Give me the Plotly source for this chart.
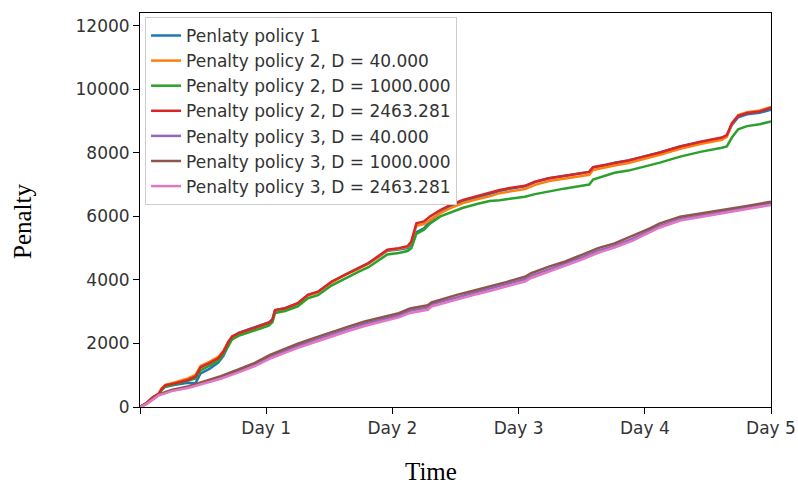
import plotly.graph_objects as go

# ---- data ----
t_up = [0.00,0.05,0.10,0.15,0.17,0.20,0.28,0.38,0.44,0.48,
        0.55,0.62,0.66,0.70,0.73,0.78,0.86,0.94,1.02,1.05,
        1.07,1.15,1.25,1.33,1.41,1.52,1.62,1.73,1.81,1.89,
        1.96,2.05,2.12,2.15,2.19,2.25,2.30,2.38,2.46,2.56,
        2.67,2.77,2.85,2.93,3.05,3.13,3.24,3.37,3.50,3.56,
        3.59,3.69,3.76,3.87,3.95,4.04,4.12,4.28,4.44,4.61,
        4.65,4.69,4.74,4.81,4.91,5.00]

policy1 = [0,110,290,410,540,640,700,760,750,1060,
           1200,1400,1600,1950,2200,2330,2450,2550,2660,2750,
           3040,3110,3260,3520,3620,3940,4150,4360,4520,4720,
           4920,4960,5000,5120,5500,5620,5850,6120,6300,6470,
           6600,6700,6800,6870,6950,7080,7200,7280,7370,7400,
           7540,7610,7690,7760,7840,7930,8010,8200,8340,8470,
           8540,8880,9120,9210,9260,9360]

p2_d40 = [0,120,300,430,580,700,780,900,1010,1290,
          1420,1580,1760,2060,2220,2310,2420,2520,2640,2750,
          3020,3090,3250,3500,3610,3920,4150,4350,4510,4730,
          4930,4980,5040,5180,5700,5760,5900,6100,6260,6420,
          6540,6630,6730,6790,6860,6990,7110,7190,7270,7310,
          7460,7530,7600,7680,7760,7850,7940,8130,8280,8410,
          8500,8920,9190,9280,9330,9440]

p2_d1000 = [0,110,290,400,520,640,720,820,900,1150,
            1300,1450,1650,1930,2130,2240,2350,2450,2560,2670,
            2960,3020,3170,3420,3520,3830,4040,4250,4400,4610,
            4800,4850,4910,5000,5450,5580,5780,6000,6120,6270,
            6390,6480,6510,6560,6620,6700,6790,6880,6960,7000,
            7160,7290,7370,7440,7520,7610,7690,7880,8030,8160,
            8200,8480,8740,8840,8900,8990]

p2_d2463 = [0,120,300,420,560,680,750,850,960,1250,
            1380,1530,1740,2050,2220,2320,2430,2530,2650,2760,
            3050,3110,3270,3530,3630,3950,4160,4370,4530,4740,
            4950,5000,5060,5210,5780,5840,6000,6200,6360,6520,
            6640,6730,6830,6890,6960,7090,7200,7280,7360,7400,
            7550,7620,7690,7760,7840,7930,8010,8200,8350,8480,
            8560,8930,9160,9250,9300,9420]

t_low = [0.00,0.05,0.10,0.15,0.20,0.25,0.38,0.51,0.64,0.78,
         0.91,1.03,1.15,1.25,1.40,1.52,1.65,1.78,1.92,2.05,
         2.14,2.28,2.31,2.40,2.51,2.64,2.77,2.90,3.05,3.10,
         3.24,3.37,3.50,3.63,3.76,3.90,3.98,4.04,4.12,4.28,
         4.49,4.65,4.81,5.00]

p3_d40 = [0,95,240,380,450,520,620,770,930,1130,
          1330,1570,1760,1920,2130,2300,2460,2620,2760,2880,
          3030,3130,3230,3330,3460,3590,3720,3860,4020,4130,
          4330,4500,4710,4920,5080,5290,5440,5540,5700,5920,
          6050,6170,6280,6410]

p3_d1000 = [0,100,250,390,470,540,650,810,970,1180,
            1390,1640,1830,1990,2200,2370,2530,2690,2820,2950,
            3100,3200,3290,3400,3530,3660,3790,3930,4100,4210,
            4420,4580,4790,5000,5150,5370,5520,5620,5780,5990,
            6120,6230,6330,6460]

p3_d2463 = [0,90,230,370,430,500,600,740,890,1090,
            1290,1520,1700,1860,2060,2230,2390,2550,2690,2820,
            2960,3060,3160,3260,3390,3520,3650,3790,3950,4060,
            4260,4430,4640,4850,5020,5230,5390,5490,5650,5870,
            6000,6120,6230,6360]

names = ["Penlaty policy 1",
         "Penalty policy 2, D = 40.000",
         "Penalty policy 2, D = 1000.000",
         "Penalty policy 2, D = 2463.281",
         "Penalty policy 3, D = 40.000",
         "Penalty policy 3, D = 1000.000",
         "Penalty policy 3, D = 2463.281"]
colors = ["#1f77b4", "#ff7f0e", "#2ca02c", "#d62728", "#9467bd", "#8c564b", "#e377c2"]

x_tickvals = [0, 1, 2, 3, 4, 5]
x_ticktext = ["", "Day 1", "Day 2", "Day 3", "Day 4", "Day 5"]
y_tickvals = [0, 2000, 4000, 6000, 8000, 10000, 12000]
y_ticktext = ["0", "2000", "4000", "6000", "8000", "10000", "12000"]

series = [(t_up, policy1), (t_up, p2_d40), (t_up, p2_d1000), (t_up, p2_d2463),
          (t_low, p3_d40), (t_low, p3_d1000), (t_low, p3_d2463)]

fig = go.Figure()
for (xs, ys), nm, c in zip(series, names, colors):
    fig.add_trace(go.Scatter(x=xs, y=ys, mode="lines", name=nm,
                             line=dict(color=c, width=2.5)))

L, R, T, B = 140, 27, 13, 77
W, H = 798, 484
pw = W - L - R
ph = H - T - B

tick_font = dict(family="DejaVu Sans", size=17, color="#333333")
fig.update_layout(
    width=W, height=H,
    margin=dict(l=L, r=R, t=T, b=B, autoexpand=False),
    paper_bgcolor="white", plot_bgcolor="white",
    showlegend=True,
    legend=dict(x=0.008, y=0.99, xanchor="left", yanchor="top",
                bgcolor="white", bordercolor="#cccccc", borderwidth=1,
                font=dict(family="DejaVu Sans", size=17, color="#333333")),
    xaxis=dict(range=[0, 5], tickvals=x_tickvals, ticktext=x_ticktext,
               automargin=False,
               showgrid=False, zeroline=False, showline=True, linecolor="black",
               linewidth=1, mirror=True, ticks="outside", ticklen=6, tickcolor="black",
               tickfont=tick_font),
    yaxis=dict(range=[0, 12400], tickvals=y_tickvals, ticktext=y_ticktext,
               automargin=False,
               showgrid=False, zeroline=False, showline=True, linecolor="black",
               linewidth=1, mirror=True, ticks="outside", ticklen=6, tickcolor="black",
               tickfont=tick_font),
)
fig.add_annotation(text="Time", x=(431 - L) / pw, y=(H - B - 471) / ph,
                   xref="paper", yref="paper", showarrow=False,
                   xanchor="center", yanchor="middle",
                   font=dict(family="Liberation Serif", size=25, color="black"))
fig.add_annotation(text="Penalty", x=(22 - L) / pw, y=(H - B - 222) / ph,
                   xref="paper", yref="paper", showarrow=False, textangle=-90,
                   xanchor="center", yanchor="middle",
                   font=dict(family="Liberation Serif", size=25, color="black"))

fig.write_html("out.html", config={"displayModeBar": False},
               post_script="document.body.style.margin='0';document.body.style.overflow='hidden';")
